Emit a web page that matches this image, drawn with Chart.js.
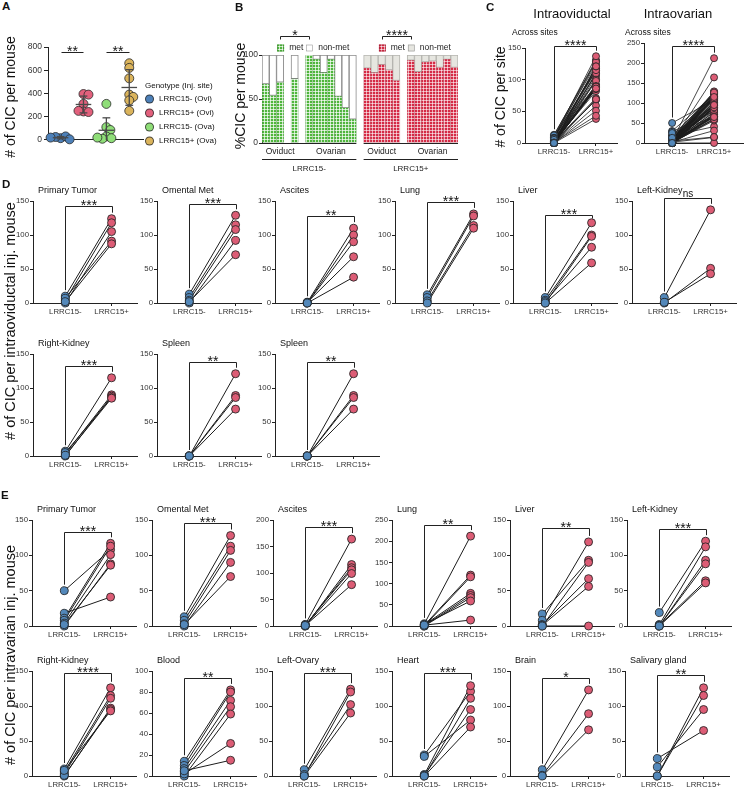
<!DOCTYPE html>
<html>
<head>
<meta charset="utf-8">
<script src="https://cdn.jsdelivr.net/npm/chart.js@4.4.1/dist/chart.umd.min.js"></script>
<style>
  body { margin: 0; background: #fff; font-family: "Liberation Sans", Arial, sans-serif; }
  #fig { position: relative; width: 745px; height: 789px; overflow: hidden; background: #fff; }
  #fig canvas { position: absolute; }
  .lbl { position: absolute; white-space: nowrap; color: #111; line-height: 1; }
</style>
</head>
<body>
<div id="fig"></div>
<script>
// ---- data ----
const groups = ['LRRC15-', 'LRRC15+'];

// A: CIC per mouse
const aSeries = ['LRRC15- (Ovi)', 'LRRC15+ (Ovi)', 'LRRC15- (Ova)', 'LRRC15+ (Ova)'];
const aNegOvi = [15, 30, 25, 5, 20];
const aPosOvi = [395, 390, 310, 245, 240, 250];
const aNegOva = [310, 110, 85, 30, 15, 10, 20];
const aPosOva = [660, 620, 530, 390, 370, 340, 250];
const aSig = ['**', '**'];

// B: % met per mouse (null = no bar)
const bSites = ['Oviduct', 'Ovarian'];
const bLegend = ['met', 'non-met'];
const bNegOviMet = [67, 54, 69, null, 73];
const bNegOvaMet = [100, 95, 80, 95, 53, 40, 27];
const bPosOviMet = [85, 80, 89, 83, 71];
const bPosOvaMet = [94, 81, 92, 93, 86, 95, 86];
const bSig = ['*', '****'];

// D: intraoviductal, per site
const dSites = ['Primary Tumor', 'Omental Met', 'Ascites', 'Lung', 'Liver', 'Left-Kidney', 'Right-Kidney', 'Spleen', 'Spleen'];
const dNeg = [
  [10, 4, 0, 7, 2],
  [13, 8, 4, 0, 2],
  [1, 0, 0, 1, 0],
  [12, 8, 3, 0],
  [8, 4, 0, 2, 0],
  [8, 0, 1],
  [7, 3, 0, 5, 1],
  [0, 0, 0, 0],
  [0, 0, 0, 0]
];
const dPos = [
  [124, 118, 105, 91, 87],
  [129, 115, 108, 92, 71],
  [110, 100, 90, 68, 38],
  [131, 128, 114, 110],
  [118, 100, 98, 82, 59],
  [137, 51, 43],
  [115, 90, 88, 86, 85],
  [121, 89, 86, 69],
  [121, 89, 86, 69]
];
const dSig = ['***', '***', '**', '***', '***', 'ns', '***', '**', '**'];

// E: intraovarian, per site
const eSites = ['Primary Tumor', 'Omental Met', 'Ascites', 'Lung', 'Liver', 'Left-Kidney',
                'Right-Kidney', 'Blood', 'Left-Ovary', 'Heart', 'Brain', 'Salivary gland'];
const eNeg = [
  [50, 18, 11, 8, 4, 0, 2],
  [13, 8, 3, 0, 2],
  [3, 0, 1, 2, 0, 1],
  [5, 2, 0, 3, 1, 0, 4, 2],
  [17, 8, 0, 2, 1, 0],
  [19, 2, 0, 0, 1, 0],
  [10, 6, 3, 0, 1, 8],
  [14, 10, 7, 4, 0, 2, 5],
  [9, 0, 2, 0],
  [30, 28, 2, 0, 1, 0],
  [9, 1, 0],
  [25, 13, 0, 0]
];
const ePos = [
  [108, 41, 117, 113, 101, 88, 86],
  [128, 113, 107, 90, 70],
  [164, 116, 110, 106, 99, 78],
  [212, 120, 116, 77, 72, 67, 59, 14],
  [93, 119, 90, 67, 56, 0],
  [120, 112, 93, 88, 64, 61],
  [126, 115, 111, 97, 95, 93],
  [82, 80, 72, 66, 59, 31, 15],
  [124, 120, 102, 90],
  [121, 80, 129, 111, 95, 70],
  [123, 89, 66],
  [65, 95, 126, 115]
];
const eSig = ['***', '***', '***', '**', '**', '***', '****', '**', '***', '***', '*', '**'];
const eMax = [150, 150, 200, 250, 150, 150, 150, 100, 150, 150, 150, 150];

// ---- layout ----
const dRows = [{top: 201, bot: 303, xs: [33, 157, 275, 395, 513, 632]},
               {top: 354, bot: 456, xs: [33, 157, 275]}];
const eRows = [{top: 520, bot: 626, xs: [32, 152, 273, 392, 510, 627]},
               {top: 671, bot: 776, xs: [32, 152, 272, 392, 510, 625]}];
const dBracketAt = [143, 146, 128, 149, 129, 154, 132, 138, 138];
const eBracketAt = [133, 146, 187, 238, 139, 137, 147, 93, 147, 147, 140, 144];

const FONT = '"Liberation Sans", Arial, sans-serif';
const BLUE = '#5388ba', RED = '#dc5c75';
const aColors = ['#4d80b8', '#e2607c', '#8fde78', '#dbb45c'];

Chart.defaults.font.family = FONT;
Chart.defaults.color = '#333';
Chart.defaults.animation = false;
Chart.defaults.responsive = false;
Chart.defaults.devicePixelRatio = 1;
Chart.defaults.plugins.legend.display = false;
Chart.defaults.plugins.tooltip.enabled = false;

const fig = document.getElementById('fig');

function addCanvas(left, top, w, h) {
  const c = document.createElement('canvas');
  c.width = w; c.height = h;
  c.style.left = left + 'px'; c.style.top = top + 'px';
  c.style.width = w + 'px'; c.style.height = h + 'px';
  fig.appendChild(c);
  return c.getContext('2d');
}

function addText(str, x, y, size, extra) {
  const d = document.createElement('div');
  d.className = 'lbl';
  d.textContent = str;
  d.style.left = x + 'px';
  d.style.top = y + 'px';
  d.style.fontSize = size + 'px';
  d.style.transform = 'translateY(-50%)';
  Object.assign(d.style, extra || {});
  fig.appendChild(d);
  return d;
}

function addYTitle(str, cx, cy, size) {
  const d = addText(str, cx, cy, size);
  d.style.transform = 'translate(-50%,-50%) rotate(-90deg)';
}

// significance brackets, placed with the chart's scales
function bracketPlugin(items) {
  return {
    id: 'brackets',
    afterDatasetsDraw(chart) {
      const ctx = chart.ctx, xs = chart.scales.x, ys = chart.scales.y;
      ctx.save();
      ctx.strokeStyle = '#222';
      ctx.lineWidth = 1;
      items.forEach(it => {
        const x1 = Math.round(xs.getPixelForValue(it.from)) + 0.5;
        const x2 = Math.round(xs.getPixelForValue(it.to)) + 0.5;
        const yb = Math.round(ys.getPixelForValue(it.at)) + 0.5;
        const legEnd = v => v == null ? yb : Math.max(yb + 3, ys.getPixelForValue(v) - (it.r || 0) - 2);
        ctx.beginPath();
        ctx.moveTo(x1, legEnd(it.leftTo));
        ctx.lineTo(x1, yb);
        ctx.lineTo(x2, yb);
        ctx.lineTo(x2, legEnd(it.rightTo));
        ctx.stroke();
        ctx.fillStyle = '#111';
        ctx.textAlign = 'center';
        ctx.textBaseline = 'alphabetic';
        if (it.text === 'ns') {
          ctx.font = '10px ' + FONT;
          ctx.fillText(it.text, (x1 + x2) / 2, yb - 2);
        } else {
          ctx.font = '14px ' + FONT;
          ctx.fillText(it.text, (x1 + x2) / 2, yb + 3);
        }
      });
      ctx.restore();
    }
  };
}

// paired LRRC15- / LRRC15+ plot
function pairChart(box, neg, pos, cfg) {
  const yw = 28, xh = 18, pt = 24, pr = 6;
  const W = box.right - box.x + yw + pr, H = box.bot - box.top + pt + xh;
  const ctx = addCanvas(box.x - yw, box.top - pt, W, H);
  const r = cfg.r || 4;
  const dots = (vals, gx, fill) => ({
    type: 'scatter',
    data: vals.map(v => ({x: gx, y: v})),
    backgroundColor: fill,
    borderColor: 'rgba(35,35,35,0.85)',
    borderWidth: 1,
    pointRadius: r,
    order: 0,
    clip: false
  });
  const links = neg.map((v, i) => ({
    type: 'line',
    data: [{x: 1, y: v}, {x: 2, y: pos[i]}],
    borderColor: '#1c1c1c',
    borderWidth: cfg.lw || 1,
    pointRadius: 0,
    order: 1,
    clip: false
  }));
  const tickFont = {size: 7.8};
  return new Chart(ctx, {
    type: 'scatter',
    data: {datasets: [dots(neg, 1, BLUE), dots(pos, 2, RED)].concat(links)},
    options: {
      layout: {autoPadding: false, padding: {top: pt, right: pr, left: 0, bottom: 0}},
      scales: {
        x: {
          type: 'linear', min: cfg.xmin || 0.3, max: cfg.xmax || 2.55,
          afterBuildTicks: s => { s.ticks = [{value: 1}, {value: 2}]; },
          afterFit: s => { s.height = xh; },
          ticks: {callback: v => groups[v - 1], font: tickFont, color: '#333', padding: 1, maxRotation: 0, autoSkip: false},
          grid: {drawOnChartArea: false, tickLength: 3, color: '#222'},
          border: {color: '#222'}
        },
        y: {
          min: 0, max: cfg.max,
          afterFit: s => { s.width = yw; },
          ticks: {stepSize: cfg.step || 50, font: tickFont, color: '#333', padding: 1},
          grid: {drawOnChartArea: false, tickLength: 3, color: '#222'},
          border: {color: '#222'}
        }
      }
    },
    plugins: [bracketPlugin([{from: 1, to: 2, at: cfg.at, text: cfg.sig,
      leftTo: Math.max(...neg), rightTo: Math.max(...pos), r: r}])]
  });
}

// ---------------- A ----------------
function swarm(vals, gx, xPerPx, unitsPerPx, diam) {
  const placed = [];
  return vals.map(v => {
    const py = v / unitsPerPx;
    let off = 0;
    for (let k = 0; k < 80; k++) {
      const c = (k % 2 ? 1 : -1) * Math.ceil(k / 2);
      if (placed.every(p => Math.hypot(p.ox - c, p.py - py) >= diam)) { off = c; break; }
    }
    placed.push({ox: off, py: py});
    return {x: gx + off * xPerPx, y: v};
  });
}

const meanSdPlugin = {
  id: 'meansd',
  afterDatasetsDraw(chart) {
    const ctx = chart.ctx, xs = chart.scales.x, ys = chart.scales.y;
    ctx.save();
    ctx.strokeStyle = '#4a4a4a';
    ctx.lineWidth = 1.3;
    const seg = (x1, y1, x2, y2) => { ctx.beginPath(); ctx.moveTo(x1, y1); ctx.lineTo(x2, y2); ctx.stroke(); };
    chart.data.datasets.forEach((ds, i) => {
      const v = ds.data.map(p => p.y), n = v.length;
      const m = v.reduce((a, b) => a + b, 0) / n;
      const sd = Math.sqrt(v.reduce((a, b) => a + (b - m) * (b - m), 0) / (n - 1));
      const gx = i + 1, px = xs.getPixelForValue(gx);
      const yM = ys.getPixelForValue(m), yHi = ys.getPixelForValue(m + sd);
      const yLo = ys.getPixelForValue(Math.max(0, m - sd));
      seg(xs.getPixelForValue(gx - 0.34), yM, xs.getPixelForValue(gx + 0.34), yM);
      seg(px, yHi, px, yLo);
      seg(xs.getPixelForValue(gx - 0.17), yHi, xs.getPixelForValue(gx + 0.17), yHi);
      if (m - sd > 0) seg(xs.getPixelForValue(gx - 0.17), yLo, xs.getPixelForValue(gx + 0.17), yLo);
    });
    ctx.restore();
  }
};

(function panelA() {
  const box = {x: 48, right: 143, top: 47, bot: 143};
  const yw = 34, pt = 18, xh = 4, xmin = 0.45, xmax = 4.6;
  const ctx = addCanvas(box.x - yw, box.top - pt, box.right - box.x + yw + 4, box.bot - box.top + pt + xh);
  const series = [aNegOvi, aPosOvi, aNegOva, aPosOva];
  const xPerPx = (xmax - xmin) / (box.right - box.x);
  const unitsPerPx = 800 / (box.bot - box.top);
  const datasets = series.map((vals, i) => ({
    label: aSeries[i],
    data: swarm(vals, i + 1, xPerPx, unitsPerPx, 4.5),
    backgroundColor: aColors[i],
    borderColor: 'rgba(40,40,40,0.8)',
    borderWidth: 1,
    pointRadius: 4.5,
    clip: false
  }));
  new Chart(ctx, {
    type: 'scatter',
    data: {datasets: datasets},
    options: {
      layout: {autoPadding: false, padding: {top: pt, right: 4, left: 0, bottom: 0}},
      scales: {
        x: {type: 'linear', min: xmin, max: xmax, afterFit: s => { s.height = xh; },
            ticks: {display: false}, grid: {display: false}, border: {color: '#222'}},
        y: {min: 0, max: 800, afterFit: s => { s.width = yw; },
            ticks: {stepSize: 200, font: {size: 8.5}, color: '#333', padding: 2},
            grid: {drawOnChartArea: false, tickLength: 4, color: '#222'}, border: {color: '#222'}}
      }
    },
    plugins: [meanSdPlugin, bracketPlugin([
      {from: 1, to: 2, at: 758, text: aSig[0]},
      {from: 3, to: 4, at: 758, text: aSig[1]}])]
  });
  // legend
  addText('Genotype (Inj. site)', 145, 86, 8);
  aSeries.forEach((s, i) => {
    const y = 99 + i * 14;
    addText('', 144.5, y, 8, {width: '7px', height: '7px', borderRadius: '50%',
      background: aColors[i], border: '1px solid rgba(40,40,40,0.8)'});
    addText(s, 159, y, 8);
  });
})();

// ---------------- B ----------------
function gridPattern(base, line) {
  const c = document.createElement('canvas');
  c.width = 3; c.height = 3;
  const g = c.getContext('2d');
  g.fillStyle = base; g.fillRect(0, 0, 3, 3);
  g.fillStyle = line; g.fillRect(0, 0, 3, 1); g.fillRect(0, 0, 1, 3);
  return g.createPattern(c, 'repeat');
}

(function panelB() {
  const box = {x: 262, right: 458, top: 55, bot: 143};
  const yw = 22, pt = 36, pb = 32;
  const W = box.right - box.x + yw + 4, H = box.bot - box.top + pt + pb;
  const ctx = addCanvas(box.x - yw, box.top - pt, W, H);
  const segs = [{geno: 0, site: 0, met: bNegOviMet}, {geno: 0, site: 1, met: bNegOvaMet},
                {geno: 1, site: 0, met: bPosOviMet}, {geno: 1, site: 1, met: bPosOvaMet}];
  const labels = [], metN = [], nonN = [], metP = [], nonP = [];
  segs.forEach((sg, si) => {
    if (si) { labels.push(''); [metN, nonN, metP, nonP].forEach(a => a.push(null)); }
    sg.start = labels.length;
    sg.met.forEach((v, j) => {
      labels.push(bSites[sg.site] + ' ' + (j + 1));
      const non = v == null ? null : 100 - v;
      metN.push(sg.geno ? null : v); nonN.push(sg.geno ? null : non);
      metP.push(sg.geno ? v : null); nonP.push(sg.geno ? non : null);
    });
    sg.end = labels.length - 1;
  });
  const greenPat = gridPattern('#4fb63c', 'rgba(255,255,255,0.7)');
  const redPat = gridPattern('#d52a45', 'rgba(255,255,255,0.6)');
  const bar = (data, bg, bc, bw) => ({data: data, backgroundColor: bg, borderColor: bc, borderWidth: bw,
    barPercentage: 1, categoryPercentage: 1, borderSkipped: false});
  const dsets = [bar(metN, greenPat, 'rgba(50,120,40,0.55)', 0.5), bar(nonN, '#ffffff', '#8a8a8a', 1),
                 bar(metP, redPat, 'rgba(150,20,40,0.5)', 0.5), bar(nonP, '#e6e6e0', '#b5b5b0', 1)];

  const decor = {
    id: 'bdecor',
    afterDatasetsDraw(chart) {
      const c = chart.ctx, ca = chart.chartArea, xs = chart.scales.x;
      const half = (xs.getPixelForValue(1) - xs.getPixelForValue(0)) / 2;
      const L = i => xs.getPixelForValue(i) - half, R = i => xs.getPixelForValue(i) + half;
      const hline = (a, b, y) => { c.beginPath(); c.moveTo(a, y); c.lineTo(b, y); c.stroke(); };
      c.save();
      c.strokeStyle = '#222'; c.lineWidth = 1; c.fillStyle = '#222';
      c.textAlign = 'center'; c.textBaseline = 'middle';
      const y0 = Math.round(ca.bottom) + 0.5;
      [[0, 1], [2, 3]].forEach(([a, b], g) => {
        const left = g === 0 ? ca.left : L(segs[a].start);
        const right = R(segs[b].end);
        hline(left, right, y0);
        [segs[a], segs[b]].forEach(sg => {
          c.font = '8.5px ' + FONT;
          c.fillText(bSites[sg.site], (L(sg.start) + R(sg.end)) / 2, y0 + 8);
        });
        hline(L(segs[a].start), right, y0 + 16);
        c.font = '8px ' + FONT;
        c.fillText(groups[g], (L(segs[a].start) + right) / 2, y0 + 25);
        // legend row
        const lx = xs.getPixelForValue(segs[a].start + 2) - 3, ly = ca.top - 7;
        const pats = [g ? redPat : greenPat, g ? '#e6e6e0' : '#ffffff'];
        const offs = [[0, 12], [29, 41]];
        bLegend.forEach((t, k) => {
          c.fillStyle = pats[k];
          c.fillRect(lx + offs[k][0], ly - 3.5, 7, 7);
          c.strokeStyle = k ? '#999' : (g ? '#a02035' : '#3a8a2c');
          c.lineWidth = 0.6;
          c.strokeRect(lx + offs[k][0] + 0.5, ly - 3, 6, 6);
          c.fillStyle = '#222';
          c.textAlign = 'left';
          c.font = '8.5px ' + FONT;
          c.fillText(t, lx + offs[k][1], ly);
        });
        c.textAlign = 'center';
        c.strokeStyle = '#222'; c.lineWidth = 1;
      });
      c.restore();
    }
  };

  new Chart(ctx, {
    type: 'bar',
    data: {labels: labels, datasets: dsets},
    options: {
      layout: {autoPadding: false, padding: {top: pt, right: 4, left: 0, bottom: pb}},
      scales: {
        x: {display: false, stacked: true, offset: true},
        y: {stacked: true, min: 0, max: 100, afterFit: s => { s.width = yw; },
            ticks: {stepSize: 50, font: {size: 8.5}, color: '#333', padding: 1},
            grid: {drawOnChartArea: false, tickLength: 3, color: '#222'}, border: {color: '#222'}}
      }
    },
    plugins: [decor, bracketPlugin([
      {from: segs[0].start + 2, to: segs[1].start, at: 121.6, text: bSig[0], leftTo: 117, rightTo: 117},
      {from: segs[2].start + 2, to: segs[3].start, at: 121.6, text: bSig[1], leftTo: 117, rightTo: 117}])]
  });
})();

// ---------------- C ----------------
pairChart({x: 525, right: 617, top: 48, bot: 143}, dNeg.flat(), dPos.flat(),
  {max: 150, step: 50, at: 153, sig: '****', xmin: 0.31, xmax: 2.5, r: 3.5, lw: 0.8});
pairChart({x: 644, right: 743, top: 43, bot: 143}, eNeg.flat(), ePos.flat(),
  {max: 250, step: 50, at: 242, sig: '****', xmin: 0.33, xmax: 2.69, r: 3.5, lw: 0.8});

// ---------------- D / E ----------------
dSites.forEach((name, i) => {
  const row = dRows[i < 6 ? 0 : 1], x = row.xs[i % 6];
  pairChart({x: x, right: x + 104, top: row.top, bot: row.bot}, dNeg[i], dPos[i],
    {max: 150, step: 50, at: dBracketAt[i], sig: dSig[i]});
  addText(name, x + 5, row.top - 11, 9);
});
eSites.forEach((name, i) => {
  const row = eRows[i < 6 ? 0 : 1], x = row.xs[i % 6];
  pairChart({x: x, right: x + 104, top: row.top, bot: row.bot}, eNeg[i], ePos[i],
    {max: eMax[i], step: eMax[i] === 100 ? 20 : 50, at: eBracketAt[i], sig: eSig[i]});
  addText(name, x + 5, row.top - 11, 9);
});

// ---------------- text ----------------
const bold = {fontWeight: 'bold'};
addText('A', 2, 7, 11.5, bold);
addText('B', 235, 8, 11.5, bold);
addText('C', 486, 8, 11.5, bold);
addText('D', 2, 185, 11.5, bold);
addText('E', 1, 496, 11.5, bold);

addYTitle('# of CIC per mouse', 10, 97, 14);
addYTitle('%CIC per mouse', 240, 96, 14);
addYTitle('# of CIC per site', 500, 97, 14);
addYTitle('# of CIC per intraoviductal inj. mouse', 10, 321, 14.5);
addYTitle('# of CIC per intravarian inj. mouse', 10, 655, 14.5);

addText('Intraoviductal', 572, 13, 13, {transform: 'translate(-50%,-50%)'});
addText('Intraovarian', 678, 13, 13, {transform: 'translate(-50%,-50%)'});
addText('Across sites', 512, 32, 8.5);
addText('Across sites', 625, 32, 8.5);
</script>
</body>
</html>
